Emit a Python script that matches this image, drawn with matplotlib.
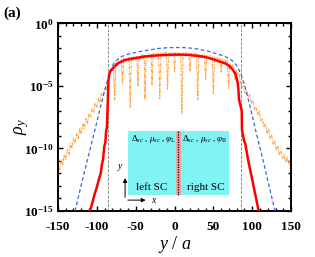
import matplotlib
matplotlib.use("Agg")
import matplotlib.pyplot as plt
import numpy as np
from matplotlib.patches import Rectangle

plt.rcParams["font.family"] = ["Liberation Serif", "DejaVu Serif"]
plt.rcParams["mathtext.fontset"] = "custom"
plt.rcParams["mathtext.rm"] = "Liberation Serif"
plt.rcParams["mathtext.it"] = "Liberation Serif:italic"
plt.rcParams["mathtext.bf"] = "Liberation Serif:bold"

# ---- data (log10 of rho_y) ----
red_x = [-110, -108.8, -106, -103, -100, -97, -95, -93.5, -92, -90.5, -89, -88, -87, -86.5,
         -86, -85.5, -85, -84.5, -84, -82.5, -80, -78, -75, -72, -68, -64, -58, -51, -45,
         -39, -30, -20, -10, 0, 10, 20, 30, 40, 46, 52, 58, 65, 70, 73.6, 76, 78, 80, 81.5,
         82.5, 83, 85, 86.5, 86.8, 88, 89.5, 91, 93, 95, 97, 99.4, 103, 108, 110]
red_log = [-15.4, -15.0, -14.4, -13.7, -13.1, -12.4, -12.0, -11.3, -10.9, -9.9, -9.5, -8.6,
           -8.3, -7.5, -6.5, -5.5, -4.6, -4.3, -4.05, -3.8, -3.65, -3.5, -3.3, -3.17, -3.05,
           -2.93, -2.85, -2.78, -2.72, -2.65, -2.6, -2.55, -2.52, -2.5, -2.5, -2.53, -2.6,
           -2.7, -2.8, -2.92, -3.05, -3.19, -3.38, -3.59, -3.8, -4.0, -4.4, -4.8, -5.5, -6.1,
           -6.6, -7.0, -8.5, -8.9, -9.4, -9.6, -10.3, -11.0, -11.6, -12.3, -13.4, -14.9, -15.4]

blue_x = [-130, -128, -120, -110, -100, -95, -90, -86, -83, -80, -76.6, -72, -68, -62, -55,
          -47, -40, -30, -20, -10, 0, 10, 20, 30, 40, 46, 52, 58, 65, 70, 75.7, 79, 82.2,
          86.5, 90, 93, 97, 105, 115, 122, 129.4, 131]
blue_log = [-15.5, -15.0, -12.9, -10.4, -7.9, -6.6, -5.4, -4.5, -3.86, -3.4, -3.05, -2.82,
            -2.65, -2.5, -2.39, -2.28, -2.2, -2.1, -2.0, -1.95, -1.93, -1.93, -1.97, -2.05,
            -2.18, -2.27, -2.39, -2.5, -2.65, -2.8, -3.05, -3.3, -3.59, -4.25, -4.9, -5.6,
            -6.6, -8.7, -11.2, -13.1, -15.0, -15.5]

orange_x = [-150, -148, -146, -144, -142, -140, -138, -136, -134, -132, -130, -128, -126,
            -124, -122, -120, -118, -116, -114, -112, -110, -108, -106, -104, -102, -100,
            -98, -96, -94, -92, -90, -88, -86,
            -84, -82, -80, -78.5, -77, -75.5, -74, -72, -70, -68.5, -67, -65.5, -64, -62,
            -60, -58.5, -57, -55.5, -54, -52, -50, -48.5, -47, -45.5, -44, -42, -40, -39,
            -38, -36.5, -35, -33, -31, -30, -29, -27.5, -26, -24, -22, -20.5, -19, -17.5,
            -16, -14, -12, -10.5, -9, -7.5, -6, -4, -2, -1, 0, 1.5, 3, 5, 7, 8, 9.5, 11, 13,
            15, 17, 18.5, 20, 21.5, 23, 25, 27, 28.5, 30, 31.5, 33, 35, 37, 38.5, 40, 41.5,
            43, 45, 47, 48.5, 50, 51.5, 53, 55, 57, 58.5, 60, 61.5, 63, 65, 67, 68, 69.5, 71,
            73, 75, 76.5, 78, 79.5, 81, 83, 85,
            87, 89, 91, 93, 95, 97, 99, 101, 103, 105, 107, 109, 111, 113, 115, 117, 119,
            121, 123, 125, 127, 129, 131, 133, 135, 137, 139, 141, 143, 145, 147, 149, 150]
orange_log = [-11.3, -11.8, -10.9, -11.3, -10.5, -10.9, -10.1, -10.5, -9.6, -10.0, -9.2,
              -9.6, -8.8, -9.2, -8.4, -8.8, -8.0, -8.4, -7.6, -8.0, -7.2, -7.5, -6.8, -7.1,
              -6.4, -6.7, -6.0, -6.3, -5.6, -5.8, -5.2, -5.3, -4.7,
              -4.3, -3.9, -3.7, -3.4, -6.1, -3.1, -3.4, -3.0, -3.2, -2.9, -4.8, -2.8, -3.1,
              -2.8, -3.0, -2.7, -6.7, -2.7, -2.95, -2.65, -2.9, -2.6, -5.0, -2.6, -2.85,
              -2.5, -2.8, -2.55, -6.1, -2.5, -2.75, -2.45, -2.7, -2.45, -4.9, -2.4, -2.7,
              -2.4, -2.65, -2.35, -6.0, -2.35, -2.65, -2.35, -2.6, -2.3, -5.3, -2.35, -2.6,
              -2.3, -2.6, -2.35, -3.9, -2.3, -2.6, -2.3, -2.6, -2.35, -7.2, -2.35, -2.6,
              -2.3, -2.6, -2.35, -3.8, -2.4, -2.65, -2.35, -2.7, -2.4, -6.1, -2.45, -2.7,
              -2.45, -2.75, -2.5, -4.5, -2.5, -2.8, -2.55, -2.85, -2.6, -5.6, -2.65, -2.9,
              -2.7, -3.0, -2.75, -3.9, -2.85, -3.1, -2.9, -3.2, -3.0, -5.2, -3.2, -3.5,
              -3.3, -3.7, -4.5, -3.7, -4.1, -4.0, -4.8,
              -5.1, -5.0, -5.6, -5.4, -5.9, -5.7, -6.4, -6.2, -6.9, -6.7, -7.3, -7.0, -7.8,
              -7.6, -8.3, -8.0, -8.8, -8.4, -9.2, -8.9, -9.7, -9.4, -10.1, -9.8, -10.5,
              -10.2, -10.8, -10.5, -11.1, -10.7, -11.3, -10.9, -11.2]

junction_x = [-85, 85]
xticks = [-150, -100, -50, 0, 50, 100, 150]
yticks = [1e0, 1e-5, 1e-10, 1e-15]
ytick_labels = [r"$\mathbf{10^{0}}$", r"$\mathbf{10^{-5}}$", r"$\mathbf{10^{-10}}$",
                r"$\mathbf{10^{-15}}$"]

fig = plt.figure(figsize=(3.15, 2.57), dpi=100)
ax = fig.add_axes([0.184, 0.179, 0.740, 0.730])

ax.plot(orange_x, 10.0 ** np.array(orange_log), color="#ff9a30", lw=0.8,
        linestyle=(0, (3, 1, 1, 1)), alpha=0.9, zorder=2)
ax.plot(blue_x, 10.0 ** np.array(blue_log), color="#3a66e8", lw=0.9,
        linestyle=(0, (3, 2)), zorder=3)
ax.plot(red_x, 10.0 ** np.array(red_log), color="red", lw=1.8, zorder=4)
for xv in junction_x:
    ax.axvline(xv, color="#8c8c8c", lw=0.7, linestyle=(0, (3, 1.5)), zorder=1)

ax.set_yscale("log")
ax.set_xlim(-150, 150)
ax.set_ylim(1e-15, 1e0)
ax.set_xticks(xticks)
ax.set_xticklabels([str(v) for v in xticks], fontweight="bold", fontsize=9.5)
ax.set_xticks(np.arange(-150, 151, 10), minor=True)
ax.set_yticks(yticks)
ax.set_yticklabels(ytick_labels, fontsize=9.5)
ax.set_yticks([10.0 ** k for k in range(-15, 1)], minor=True)
ax.yaxis.set_minor_formatter(plt.NullFormatter())
ax.tick_params(which="both", direction="in", top=True, right=True, width=1.0)
ax.tick_params(which="major", length=3.5)
ax.tick_params(which="minor", length=2)
ax.tick_params(axis="x", which="major", pad=7)
ax.tick_params(axis="y", which="major", pad=3)
for sp in ax.spines.values():
    sp.set_linewidth(1.4)

ax.set_xlabel(r"$y$ / $a$", fontsize=13, labelpad=1)
ax.set_ylabel(r"$\rho_y$", fontsize=13)
ax.yaxis.set_label_coords(-0.115, 0.45)
fig.text(0.012, 0.95, "(a)", fontsize=11, fontweight="bold", ha="left", va="center")

# inset sketch of the junction
ins_l, ins_r, ins_b, ins_t = 0.300, 0.734, 0.085, 0.427
ax.add_patch(Rectangle((ins_l, ins_b), ins_r - ins_l, ins_t - ins_b, transform=ax.transAxes,
                       facecolor="#80f4f4", edgecolor="none", zorder=5))
mid = 0.516
ax.add_patch(Rectangle((mid - 0.011, ins_b), 0.022, ins_t - ins_b, transform=ax.transAxes,
                       facecolor="#f0a0a0", edgecolor="none", zorder=6))
ax.plot([mid, mid], [ins_b, ins_t], transform=ax.transAxes, color="black", lw=0.9,
        linestyle=(0, (1, 1)), zorder=7)
ax.text(0.41, 0.385, r"$\Delta_{sc}$ , $\mu_{sc}$ , $\varphi_{\rm L}$", transform=ax.transAxes,
        fontsize=6.5, ha="center", va="center", zorder=8)
ax.text(0.63, 0.385, r"$\Delta_{sc}$ , $\mu_{sc}$ , $\varphi_{\rm R}$", transform=ax.transAxes,
        fontsize=6.5, ha="center", va="center", zorder=8)
ax.text(0.40, 0.125, "left SC", transform=ax.transAxes, fontsize=8, ha="center",
        va="center", zorder=8)
ax.text(0.635, 0.125, "right SC", transform=ax.transAxes, fontsize=8, ha="center",
        va="center", zorder=8)
ox, oy = 0.288, 0.058
ax.annotate("", xy=(0.388, oy), xytext=(ox, oy), xycoords="axes fraction",
            arrowprops=dict(arrowstyle="-|>", lw=0.7, color="black", mutation_scale=6), zorder=9)
ax.annotate("", xy=(ox, 0.19), xytext=(ox, oy), xycoords="axes fraction",
            arrowprops=dict(arrowstyle="-|>", lw=0.7, color="black", mutation_scale=6), zorder=9)
ax.text(0.40, oy, r"$x$", transform=ax.transAxes, fontsize=7, ha="left", va="center", zorder=9)
ax.text(0.283, 0.20, r"$y$", transform=ax.transAxes, fontsize=7, ha="right", va="bottom",
        zorder=9)

fig.savefig("out.png", dpi=100)
